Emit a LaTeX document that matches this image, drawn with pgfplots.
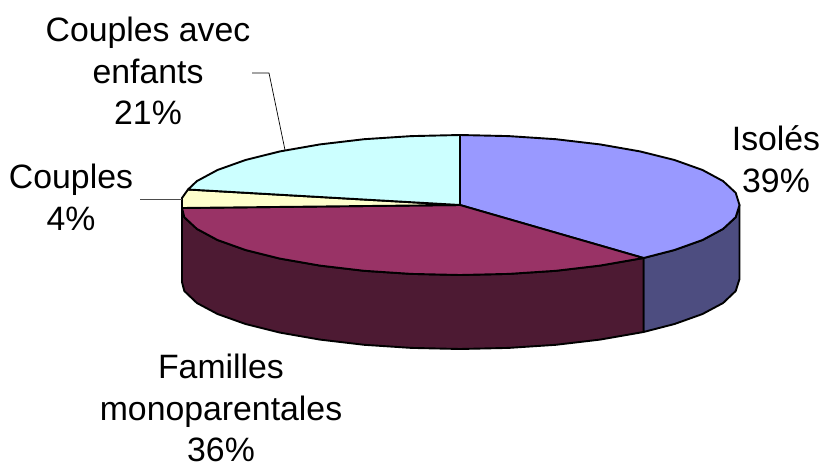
\documentclass[border=0pt]{standalone}
\usepackage{pgfplots}
\pgfplotsset{compat=1.18}
\usepackage{fontspec}
\setmainfont{Liberation Sans}
\definecolor{cblue}{HTML}{9999FF}
\definecolor{cblueside}{HTML}{4D4D80}
\definecolor{cpurple}{HTML}{993366}
\definecolor{cpurpleside}{HTML}{4D1A33}
\definecolor{cyellow}{HTML}{FFFFCC}
\definecolor{ccyan}{HTML}{CCFFFF}
\begin{document}
\begin{tikzpicture}[x=1pt,y=1pt]
\begin{axis}[
  scale only axis, width=824pt, height=466pt,
  xmin=0, xmax=824, ymin=0, ymax=466, y dir=reverse,
  hide axis, clip=false, anchor=south west, at={(0pt,0pt)},
  every axis plot/.append style={line width=1.9pt, line join=round, black},
]
% side faces
\addplot[fill=cblueside, draw=black] coordinates {
(739.5,205)(735.7,217.2)(723.1,228.9)(702.5,240)(674.5,250)(643.5,258)
(643.5,332)(674.5,324)(702.5,314)(723.1,303)(735.7,291)(739.5,279)} -- cycle;
\addplot[fill=cpurpleside, draw=black] coordinates {
(643.5,258)(600,265.6)(555.8,270.8)(508.6,273.9)(460,275)(411.4,273.9)(364.2,270.8)(320,265.6)(280,258.6)(245.5,250)(217.5,240)(196.9,228.9)(184.3,217.2)(182,208)
(182,282)(184.3,291)(196.9,303)(217.5,314)(245.5,324)(280,332.6)(320,339.6)(364.2,344.8)(411.4,347.9)(460,349)(508.6,347.9)(555.8,344.8)(600,339.6)(643.5,332)} -- cycle;
% top faces
\addplot[fill=cblue, draw=black] coordinates {
(460,205)(460,135)(508.6,136.1)(555.8,139.2)(600,144.4)(640,151.4)(674.5,160)(702.5,170)(723.1,181.1)(735.7,192.8)(739.5,205)(735.7,217.2)(723.1,228.9)(702.5,240)(674.5,250)(643.5,258)} -- cycle;
\addplot[fill=cpurple, draw=black] coordinates {
(460,205)(643.5,258)(600,265.6)(555.8,270.8)(508.6,273.9)(460,275)(411.4,273.9)(364.2,270.8)(320,265.6)(280,258.6)(245.5,250)(217.5,240)(196.9,228.9)(184.3,217.2)(182,208)} -- cycle;
\addplot[fill=cyellow, draw=black] coordinates {
(460,205)(182,208)(182,198)(188,189.5)} -- cycle;
\addplot[fill=ccyan, draw=black] coordinates {
(460,205)(188,189.5)(196.9,181.1)(217.5,170)(245.5,160)(280,151.4)(320,144.4)(364.2,139.2)(411.4,136.1)(460,135)} -- cycle;
% leader lines
\addplot[draw=black, line width=0.7pt] coordinates {(252,73)(269,73)(285,150)};
\addplot[draw=black!70, line width=0.7pt] coordinates {(140,199)(182,199)};
% labels
\node[align=center, font=\fontsize{33.8}{41.8}\selectfont, anchor=center] at (axis cs:148,71) {Couples avec\\enfants\\21\%};
\node[align=center, font=\fontsize{33.8}{41.8}\selectfont, anchor=center] at (axis cs:71,197) {Couples\\4\%};
\node[align=center, font=\fontsize{33.8}{41.8}\selectfont, anchor=center] at (axis cs:776,159) {Isolés\\39\%};
\node[align=center, font=\fontsize{33.8}{41.8}\selectfont, anchor=center] at (axis cs:221,408) {Familles\\monoparentales\\36\%};
\end{axis}
\pgfresetboundingbox
\path[use as bounding box] (0pt,0pt) rectangle (824pt,466pt);
\end{tikzpicture}
\end{document}
